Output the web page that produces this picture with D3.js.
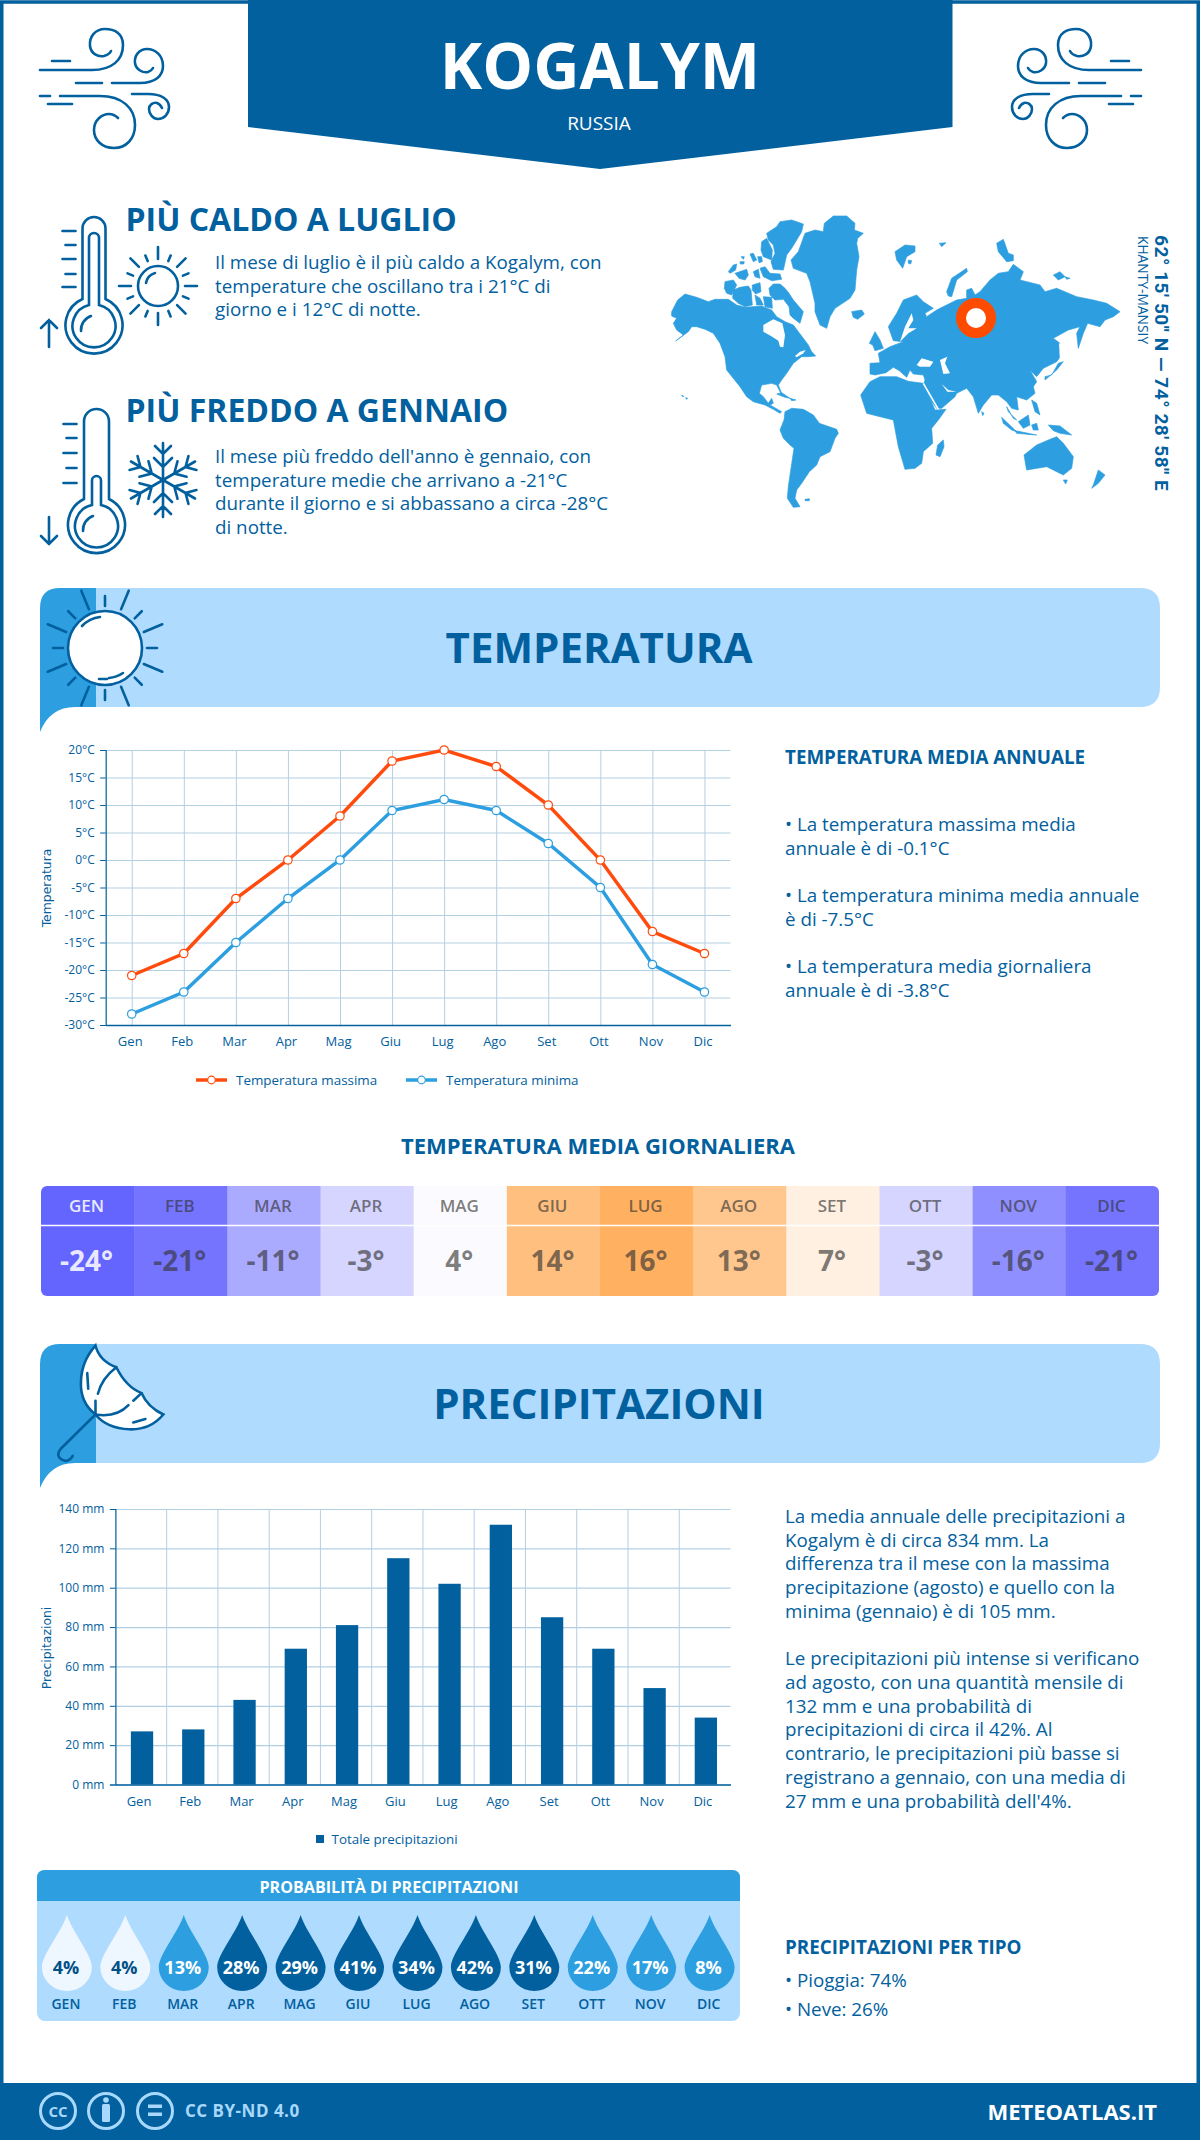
<!DOCTYPE html>
<html>
<head>
<meta charset="utf-8">
<script src="https://cdn.jsdelivr.net/npm/d3@7"></script>
<style>
  body { margin: 0; background: #fff; }
  svg { display: block; }
  text { font-family: "Open Sans", sans-serif; }
</style>
</head>
<body>
<div id="chart"></div>
<script>
// chart values
const months = ["Gen","Feb","Mar","Apr","Mag","Giu","Lug","Ago","Set","Ott","Nov","Dic"];
const monthsUpper = ["GEN","FEB","MAR","APR","MAG","GIU","LUG","AGO","SET","OTT","NOV","DIC"];
const tempMax = [-21,-17,-7,0,8,18,20,17,10,0,-13,-17];
const tempMin = [-28,-24,-15,-7,0,9,11,9,3,-5,-19,-24];
const tempTicks = [20,15,10,5,0,-5,-10,-15,-20,-25,-30];
const tempMean = [-24,-21,-11,-3,4,14,16,13,7,-3,-16,-21];
const precip = [27,28,43,69,81,115,102,132,85,69,49,34];
const precipTicks = [0,20,40,60,80,100,120,140];
const precipProb = [4,4,13,28,29,41,34,42,31,22,17,8];

const DARK = "#02609e", MID = "#2d9fe0", LIGHT = "#afdbff", GRID = "#b3cfe4", ORANGE = "#ff4b0d";

const svg = d3.select("#chart").append("svg").attr("width", 1200).attr("height", 2140);

function txt(x, y, str, size, o = {}) {
  const t = (o.g || svg).append("text").attr("x", x).attr("y", y)
    .attr("font-size", size)
    .attr("font-weight", o.w || 400)
    .attr("fill", o.c || DARK)
    .attr("text-anchor", o.a || "start")
    .text(str);
  if (o.ls) t.attr("letter-spacing", o.ls);
  if (o.f) t.style("font-family", o.f);
  return t;
}

function lines(x, ys, strs, size, o) {
  strs.forEach((s, i) => txt(x, ys[i], s, size, o));
}

// frame + header + footer
svg.append("rect").attr("x", 1.75).attr("y", 2).attr("width", 1196.5).attr("height", 2100)
  .attr("fill", "none").attr("stroke", DARK).attr("stroke-width", 3.5);
svg.append("path").attr("d", "M248,0H952.5V127L600,169L248,127Z").attr("fill", DARK);
svg.append("rect").attr("y", 2083).attr("width", 1200).attr("height", 57).attr("fill", DARK);

txt(600, 89, "KOGALYM", 64, { a: "middle", w: 700, c: "#fff" });
txt(599, 130, "RUSSIA", 19, { a: "middle", c: "#fff" });

// wind icon, drawn for the left side and mirrored on the right
const windPaths = [
  "M40,70H92C112,70 123,60 123,45C123,33 114,29 105,29C95,29 89,37 90,46C91,54 98,57 104,56C108,55 110,53 111,51",
  "M52,61H70", "M76,83H102",
  "M112,83H140C155,83 163,76 163,66C163,55 155,49 147,49C139,49 134,56 135,63C136,70 143,73 148,72C151,71 152,70 153,68",
  "M40,96H50", "M60,96H100C122,96 135,108 135,125C135,139 126,148 114,148C102,148 94,140 94,130C94,120 102,114 109,114C113,114 116,116 118,118",
  "M48,104H72",
  "M132,94H148C161,94 169,99 169,107C169,114 164,119 158,119C153,119 149,114 149,109C149,105 153,102 157,103C160,104 161,106 162,108"
];
function wind(t) {
  const g = svg.append("g").attr("transform", t).attr("fill", "none").attr("stroke", DARK)
    .attr("stroke-width", 2.6).attr("stroke-linecap", "round");
  windPaths.forEach(d => g.append("path").attr("d", d));
}
wind("");
wind("translate(1181,0) scale(-1,1)");

// thermometers
function thermometer(cx, cy, stemL, stemR, top, innerL, innerR, innerTop, tickYs, tickX, up) {
  const g = svg.append("g").attr("fill", "none").attr("stroke", DARK).attr("stroke-width", 2.6).attr("stroke-linecap", "round");
  const r = (stemR - stemL) / 2;
  g.append("path").attr("d", `M${stemL},${cy-26}V${top+r}A${r},${r} 0 0 1 ${stemR},${top+r}V${cy-26}A28.5,28.5 0 1 1 ${stemL},${cy-26}Z`);
  const ir = (innerR - innerL) / 2;
  g.append("path").attr("d", `M${innerL},${cy-20}V${innerTop+ir}A${ir},${ir} 0 0 1 ${innerR},${innerTop+ir}V${cy-20}A21.5,21.5 0 1 1 ${innerL},${cy-20}Z`);
  g.append("path").attr("d", `M${cx-13},${cy+6}A15,15 0 0 1 ${cx-3},${cy-9}`);
  tickYs.forEach((y, i) => g.append("line").attr("x1", i % 2 ? tickX + 3 : tickX).attr("x2", tickX + 13).attr("y1", y).attr("y2", y));
  const ay0 = up ? 347 : 517, ay1 = up ? 320 : 544, dir = up ? 8 : -8;
  g.append("path").attr("d", `M49,${ay0}V${ay1}M41,${ay1+dir}L49,${ay1}L57,${ay1+dir}`);
}
thermometer(94, 325, 82.5, 105.5, 217, 89, 99, 233, [231,245,259,274,287], 62.5, true);
thermometer(96, 525, 84, 109, 409, 92, 101, 476, [424,438,453,468,483], 63.5, false);

// small sun
{
  const g = svg.append("g").attr("transform", "translate(158,286)").attr("fill", "none").attr("stroke", DARK).attr("stroke-width", 2.6).attr("stroke-linecap", "round");
  g.append("circle").attr("r", 20);
  g.append("path").attr("d", "M-12,-3A13,13 0 0 1 -3,-13");
  d3.range(16).forEach(i => g.append("line").attr("y1", -27).attr("y2", i % 2 ? -33 : -39).attr("transform", `rotate(${i*22.5})`));
}
// snowflake
{
  const g = svg.append("g").attr("transform", "translate(163,480)").attr("fill", "none").attr("stroke", DARK).attr("stroke-width", 2.6).attr("stroke-linecap", "round");
  d3.range(6).forEach(i => g.append("path").attr("transform", `rotate(${i*60})`)
    .attr("d", "M0,0V-37M-8,-34L0,-26L8,-34M-9,-22L0,-13L9,-22"));
}

txt(125.5, 231, "PIÙ CALDO A LUGLIO", 32, { w: 700 });
lines(215, [269,292.5,316], ["Il mese di luglio è il più caldo a Kogalym, con","temperature che oscillano tra i 21°C di","giorno e i 12°C di notte."], 18.8);
txt(125.5, 422, "PIÙ FREDDO A GENNAIO", 32, { w: 700 });
lines(215, [463,486.5,510,534], ["Il mese più freddo dell'anno è gennaio, con","temperature medie che arrivano a -21°C","durante il giorno e si abbassano a circa -28°C","di notte."], 18.8);

// world map outline, traced by hand in three pieces, each at 3x
const mapNorth = [
  [[20,305],[38,270],[60,252],[95,262],[130,275],[150,268],[190,268],[215,285],[240,292],[290,288],[320,300],[335,320],[360,335],[385,345],[400,365],[415,385],[430,405],[440,425],[452,438],[430,440],[410,440],[385,460],[365,490],[350,510],[340,525],[352,555],[345,545],[335,525],[320,520],[290,525],[283,550],[295,560],[310,580],[320,565],[325,580],[315,585],[350,605],[345,610],[325,598],[300,585],[265,575],[245,560],[225,530],[185,480],[180,440],[165,400],[145,370],[120,358],[95,350],[80,350],[70,365],[32,393],[55,375],[35,360],[25,340],[35,325],[20,318]],
  [[305,70],[335,50],[345,35],[380,30],[415,42],[410,65],[395,90],[380,115],[365,135],[355,180],[325,178],[318,155],[330,130],[325,105],[310,90]],
  [[290,95],[305,85],[322,120],[320,150],[295,140],[288,120]],
  [[255,132],[265,130],[275,150],[265,155]],
  [[278,140],[290,140],[292,155],[282,158]],
  [[228,140],[238,140],[235,148]],
  [[225,155],[238,155],[236,162],[226,162]],
  [[190,185],[205,165],[215,162],[212,180],[195,190]],
  [[210,190],[245,178],[250,195],[240,210],[222,205]],
  [[265,185],[280,178],[285,205],[270,200]],
  [[285,175],[300,170],[315,190],[345,192],[350,208],[320,212],[295,200]],
  [[180,215],[205,210],[215,225],[200,255],[185,250],[178,235]],
  [[205,240],[225,232],[250,228],[258,240],[262,285],[240,290],[220,280],[203,265]],
  [[262,225],[285,218],[288,245],[272,252],[262,240]],
  [[270,255],[285,265],[295,285],[275,285]],
  [[312,235],[325,222],[345,222],[360,235],[372,250],[385,270],[415,305],[405,340],[385,325],[375,315],[372,290],[355,268],[330,270],[315,255]],
  [[295,260],[320,262],[322,295],[300,290]],
  [[478,40],[505,18],[545,18],[570,40],[568,60],[595,70],[578,85],[575,100],[582,140],[575,180],[570,240],[555,265],[510,295],[495,320],[485,355],[465,345],[450,305],[450,280],[435,215],[425,190],[385,175],[378,150],[400,125],[420,70],[450,60],[475,65]],
  [[560,305],[590,300],[598,312],[578,328],[565,322]],
  [[50,556],[56,558],[54,561]],
  [[62,563],[68,565],[64,568]]
];
const mapNorthSeas = [
  [[295,345],[325,328],[352,340],[360,375],[355,412],[345,410],[340,392],[318,378],[295,365]],
  [[345,275],[365,282],[372,300],[360,320],[340,315],[330,305],[345,295]],
  [[390,438],[405,425],[422,420],[415,430],[395,442]]
];
const mapSouth = [
  [[225,125],[245,115],[280,118],[310,135],[328,160],[380,178],[385,190],[375,205],[360,245],[330,260],[320,285],[298,305],[275,340],[260,360],[255,385],[270,410],[250,412],[232,385],[235,350],[240,315],[252,235],[240,225],[220,205],[210,180],[222,150]],
  [[285,388],[298,386],[298,392],[285,392]],
  [[200,72],[215,68],[240,85],[225,82]],
  [[240,85],[258,90],[245,92]]
];
const mapEast = [
  [[30,430],[60,428],[55,400],[90,380],[130,365],[100,362],[85,320],[110,280],[130,240],[170,225],[190,245],[220,265],[195,280],[200,290],[230,270],[240,265],[290,240],[320,235],[320,210],[335,205],[345,225],[360,215],[390,180],[415,160],[445,155],[460,133],[490,155],[480,180],[540,195],[555,215],[590,205],[650,230],[700,240],[740,250],[780,275],[760,290],[735,300],[720,320],[683,310],[670,340],[655,385],[650,340],[660,320],[625,330],[580,355],[600,370],[605,405],[590,425],[550,445],[530,470],[510,450],[530,485],[520,500],[525,520],[500,540],[470,530],[475,570],[455,565],[440,545],[415,525],[395,525],[370,555],[355,580],[340,530],[320,505],[290,520],[285,530],[245,565],[230,565],[215,545],[190,495],[195,480],[190,465],[160,462],[150,450],[140,472],[118,452],[100,442],[78,458],[45,465],[30,462]],
  [[2,525],[30,485],[60,470],[110,470],[145,484],[190,490],[225,570],[258,568],[235,600],[215,625],[218,670],[190,695],[185,730],[165,745],[135,748],[115,680],[100,600],[60,590],[20,580]],
  [[28,370],[45,335],[60,360],[70,385],[45,392],[38,375]],
  [[105,95],[135,75],[165,78],[165,95],[140,110],[128,145],[110,120]],
  [[145,120],[155,122],[152,132],[145,130]],
  [[238,70],[258,68],[245,80]],
  [[410,70],[430,58],[445,100],[460,105],[460,122],[440,125],[415,95]],
  [[260,215],[275,175],[320,145],[322,155],[290,180],[275,230],[265,228]],
  [[580,165],[600,155],[615,170],[595,180]],
  [[615,170],[630,175],[620,178]],
  [[555,480],[590,450],[610,425],[595,430],[575,465],[555,470]],
  [[515,540],[530,550],[540,585],[525,575]],
  [[425,592],[470,635],[455,630],[430,610]],
  [[465,632],[530,645],[470,640]],
  [[475,605],[505,585],[510,615],[490,625]],
  [[515,615],[530,610],[535,630],[520,630]],
  [[565,615],[600,618],[635,645],[600,640],[580,632]],
  [[440,560],[460,595],[470,600],[445,575]],
  [[492,705],[530,675],[565,660],[590,650],[610,670],[640,710],[635,745],[610,765],[590,755],[560,740],[500,750]],
  [[610,780],[622,780],[617,792]],
  [[715,750],[735,765],[715,790],[695,805],[700,795]],
  [[250,660],[252,680],[240,710],[228,705],[233,675]],
  [[365,575],[372,580],[368,587]]
];
const mapEastSeas = [
  [[170,435],[185,415],[220,425],[210,440],[180,440]],
  [[240,420],[262,410],[255,430],[270,460],[250,462]],
  [[125,350],[135,320],[155,280],[160,300],[145,325],[170,325],[145,340],[120,365]],
  [[245,492],[265,510],[290,515],[262,515]],
  [[597,370],[605,372],[607,410],[600,425]]
];
const closedLine = d3.line().curve(d3.curveLinearClosed);
function mapPiece(tx, ty, land, seas) {
  const g = svg.append("g").attr("transform", `translate(${tx},${ty}) scale(${1/3})`).attr("stroke-linejoin", "round");
  g.selectAll("path.land").data(land).join("path").attr("class", "land").attr("d", closedLine)
    .attr("fill", MID).attr("stroke", MID).attr("stroke-width", 2);
  g.selectAll("path.sea").data(seas).join("path").attr("class", "sea").attr("d", closedLine).attr("fill", "#fff");
  return g;
}
mapPiece(665, 210, mapNorth, mapNorthSeas);
mapPiece(710, 370, mapSouth, []);
mapPiece(860, 220, mapEast, mapEastSeas).append("path").attr("d", "M190,490L235,568").attr("stroke", "#fff").attr("stroke-width", 5).attr("fill", "none");
svg.append("circle").attr("cx", 976).attr("cy", 318).attr("r", 15).attr("fill", "#fff").attr("stroke", "#ff4b00").attr("stroke-width", 10);

txt(0, 0, "62° 15' 50'' N — 74° 28' 58'' E", 19, { w: 700, f: "Roboto", ls: 0.55 }).attr("transform", "translate(1155,235) rotate(90)");
txt(0, 0, "KHANTY-MANSIY", 13.8, {}).attr("transform", "translate(1138,236) rotate(90)");

// section bands
function band(y, title) {
  svg.append("path").attr("d", `M96,${y}H1140Q1160,${y} 1160,${y+20}V${y+99}Q1160,${y+119} 1140,${y+119}H96Z`).attr("fill", LIGHT);
  svg.append("path").attr("d", `M40,${y+144}V${y+20}Q40,${y} 60,${y}H96V${y+119}H75Q50,${y+119} 40,${y+144}Z`).attr("fill", MID);
  txt(599, y + 75, title, 42, { a: "middle", w: 700 });
}
band(588, "TEMPERATURA");
band(1344, "PRECIPITAZIONI");

// big sun in the first band
{
  const g = svg.append("g").attr("transform", "translate(105,648)").attr("stroke", DARK).attr("stroke-width", 2.6).attr("stroke-linecap", "round").attr("fill", "none");
  g.append("circle").attr("r", 37).attr("fill", "#fff");
  g.append("path").attr("d", "M-23,-22A30,30 0 0 1 -5,-31");
  g.append("path").attr("d", "M-6,31H2M4,30A30,30 0 0 0 18,25");
  d3.range(16).forEach(i => g.append("line").attr("y1", -42).attr("y2", i % 2 ? -62 : -52).attr("transform", `rotate(${i*22.5})`));
}
// umbrella in the second band
{
  const g = svg.append("g").attr("transform", "translate(0,1330) scale(0.4847,0.3448)").attr("fill", "none");
  const s = sel => sel.attr("stroke", DARK).attr("stroke-width", 2.6).attr("vector-effect", "non-scaling-stroke").attr("stroke-linecap", "round");
  s(g.append("path")).attr("fill", "#fff").attr("d", "M197,45Q205,90 240,108Q260,165 292,183Q305,225 337,245Q310,290 267,288Q220,285 197,245Q165,210 167,150Q168,90 197,45Z");
  s(g.append("path")).attr("d", "M240,108Q210,140 202,185M197,205V245Q240,255 265,218M275,205L292,183");
  s(g.append("path")).attr("d", "M180,125L182,170M275,268L300,258");
  s(g.append("path")).attr("d", "M197,245L125,345Q112,370 135,380Q145,378 150,365");
}

// temperature chart
const tW = [105.7, 730.5], tH = [1025, 750];
const xT = d3.scalePoint().domain(months).range(tW).padding(0.5);
const yT = d3.scaleLinear().domain([-30, 20]).range(tH);

function styleAxis(g) {
  g.selectAll("text").attr("fill", DARK).attr("font-size", 12).style("font-family", '"Open Sans", sans-serif');
  g.selectAll("line").attr("stroke", DARK);
}
function styleBottom(g) {
  g.selectAll("text").attr("font-size", 13).attr("dx", -2);
  g.select(".domain").attr("stroke", DARK).attr("stroke-width", 1.6);
}

// grids
svg.append("g").attr("transform", `translate(${tW[0]},0)`)
  .call(d3.axisLeft(yT).tickValues(tempTicks).tickSize(-(tW[1]-tW[0])).tickFormat(""))
  .call(g => g.select(".domain").remove())
  .call(g => g.selectAll("line").attr("stroke", GRID).attr("stroke-width", 1.2));
svg.append("g").attr("transform", `translate(0,${tH[0]})`)
  .call(d3.axisBottom(xT).tickSize(-(tH[0]-tH[1])).tickFormat(""))
  .call(g => g.select(".domain").remove())
  .call(g => g.selectAll("line").attr("stroke", GRID).attr("stroke-width", 1));

// axes
svg.append("g").attr("transform", `translate(${tW[0]},0)`)
  .call(d3.axisLeft(yT).tickValues(tempTicks).tickSize(5.5).tickPadding(5.5).tickFormat(d => d + "°C"))
  .call(styleAxis)
  .call(g => g.select(".domain").attr("stroke", DARK).attr("stroke-width", 1.2));
svg.append("g").attr("transform", `translate(0,${tH[0]})`)
  .call(d3.axisBottom(xT).tickSize(0).tickPadding(12))
  .call(styleAxis)
  .call(styleBottom);

txt(0, 0, "Temperatura", 12.4, { a: "middle", f: "DejaVu Sans" }).attr("transform", "translate(51,888) rotate(-90)");

const tempLine = d3.line().x((d, i) => xT(months[i])).y(d => yT(d));
[[tempMax, ORANGE], [tempMin, MID]].forEach(([vals, col]) => {
  svg.append("path").datum(vals).attr("d", tempLine).attr("fill", "none").attr("stroke", col).attr("stroke-width", 3.5);
  svg.append("g").selectAll("circle").data(vals).join("circle")
    .attr("cx", (d, i) => xT(months[i])).attr("cy", d => yT(d)).attr("r", 4.2)
    .attr("fill", "#fff").attr("stroke", col).attr("stroke-width", 1.2);
});

// legend
[[196, ORANGE, "Temperatura massima"], [406, MID, "Temperatura minima"]].forEach(([x, col, name]) => {
  svg.append("line").attr("x1", x).attr("x2", x + 31).attr("y1", 1080).attr("y2", 1080).attr("stroke", col).attr("stroke-width", 3.5);
  svg.append("circle").attr("cx", x + 15.5).attr("cy", 1080).attr("r", 3.8).attr("fill", "#fff").attr("stroke", col).attr("stroke-width", 1.2);
  txt(x + 40, 1084.5, name, 13.4);
});

// right column, temperature
txt(785, 764, "TEMPERATURA MEDIA ANNUALE", 18.8, { w: 700 });
lines(785, [831,855,902,926,973,997], [
  "• La temperatura massima media","annuale è di -0.1°C",
  "• La temperatura minima media annuale","è di -7.5°C",
  "• La temperatura media giornaliera","annuale è di -3.8°C"], 18.8);

// daily mean table
txt(598, 1154, "TEMPERATURA MEDIA GIORNALIERA", 22, { a: "middle", w: 700 });
const cell = d3.scaleBand().domain(monthsUpper).range([41, 1159]);
const cold = d3.scaleLinear().domain([-24, 4]).range(["#6464ff", "#fbfbff"]);
const warm = d3.scaleLinear().domain([7, 13, 16]).range(["#fff0e1", "#ffc68e", "#ffb060"]);
const heat = v => v <= 4 ? cold(v) : warm(v);
svg.append("clipPath").attr("id", "tableClip").append("rect").attr("x", 41).attr("y", 1186).attr("width", 1118).attr("height", 110).attr("rx", 6);
const table = svg.append("g").attr("clip-path", "url(#tableClip)");
table.selectAll("rect").data(tempMean).join("rect")
  .attr("x", (d, i) => cell(monthsUpper[i])).attr("y", 1186)
  .attr("width", cell.bandwidth() + 0.5).attr("height", 110)
  .attr("fill", d => heat(d));
svg.append("line").attr("x1", 41).attr("x2", 1159).attr("y1", 1225.5).attr("y2", 1225.5).attr("stroke", "#fff").attr("stroke-width", 1.5);
tempMean.forEach((v, i) => {
  const cx = cell(monthsUpper[i]) + cell.bandwidth() / 2 - 1;
  const first = i === 0;
  txt(cx, 1212, monthsUpper[i], 17, { a: "middle", w: 600, c: first ? "#e8e8ff" : "#333" }).attr("fill-opacity", first ? 1 : 0.65);
  txt(cx, 1271, v + "°", 28, { a: "middle", w: 700, c: first ? "#e8e8ff" : "#333" }).attr("fill-opacity", first ? 1 : 0.65);
});

// precipitation chart
const pW = [115.4, 730.5], pH = [1784.5, 1509];
const xP = d3.scaleBand().domain(months).range(pW).paddingInner(0.565).paddingOuter(0.2825);
const yP = d3.scaleLinear().domain([0, 140]).range(pH);

svg.append("g").attr("transform", `translate(${pW[0]},0)`)
  .call(d3.axisLeft(yP).tickValues(precipTicks).tickSize(-(pW[1]-pW[0])).tickFormat(""))
  .call(g => g.select(".domain").remove())
  .call(g => g.selectAll("line").attr("stroke", GRID).attr("stroke-width", 1.2));
svg.append("g").selectAll("line").data(months.slice(1)).join("line")
  .attr("x1", d => xP(d) - (xP.step() - xP.bandwidth()) / 2).attr("x2", d => xP(d) - (xP.step() - xP.bandwidth()) / 2)
  .attr("y1", pH[0]).attr("y2", pH[1]).attr("stroke", GRID).attr("stroke-width", 1);

svg.append("g").attr("transform", "translate(1,0)").selectAll("rect").data(precip).join("rect")
  .attr("x", (d, i) => xP(months[i])).attr("y", d => yP(d))
  .attr("width", xP.bandwidth()).attr("height", d => yP(0) - yP(d)).attr("fill", DARK);

svg.append("g").attr("transform", `translate(${pW[0]},0)`)
  .call(d3.axisLeft(yP).tickValues(precipTicks).tickSize(5.5).tickPadding(5.5).tickFormat(d => d + " mm"))
  .call(styleAxis)
  .call(g => g.select(".domain").attr("stroke", DARK).attr("stroke-width", 1.2));
svg.append("g").attr("transform", `translate(0,${pH[0]})`)
  .call(d3.axisBottom(xP).tickSize(0).tickPadding(12))
  .call(styleAxis)
  .call(styleBottom);

txt(0, 0, "Precipitazioni", 12.4, { a: "middle", f: "DejaVu Sans" }).attr("transform", "translate(51,1648) rotate(-90)");

svg.append("rect").attr("x", 316).attr("y", 1835).attr("width", 8).attr("height", 8).attr("fill", DARK);
txt(331.5, 1843.5, "Totale precipitazioni", 13.4);

// right column, precipitation
lines(785, [1523,1546.5,1570,1594,1618], [
  "La media annuale delle precipitazioni a","Kogalym è di circa 834 mm. La",
  "differenza tra il mese con la massima","precipitazione (agosto) e quello con la",
  "minima (gennaio) è di 105 mm."], 18.8);
lines(785, [1665,1689,1713,1736,1760,1784,1808], [
  "Le precipitazioni più intense si verificano","ad agosto, con una quantità mensile di",
  "132 mm e una probabilità di","precipitazioni di circa il 42%. Al",
  "contrario, le precipitazioni più basse si","registrano a gennaio, con una media di",
  "27 mm e una probabilità dell'4%."], 18.8);
txt(785, 1954, "PRECIPITAZIONI PER TIPO", 18.8, { w: 700 });
lines(785, [1987,2016], ["• Pioggia: 74%","• Neve: 26%"], 18.8);

// probability panel
svg.append("rect").attr("x", 37).attr("y", 1870).attr("width", 703).attr("height", 151).attr("rx", 8).attr("fill", LIGHT);
svg.append("path").attr("d", "M37,1901V1878Q37,1870 45,1870H732Q740,1870 740,1878V1901Z").attr("fill", MID);
txt(389, 1893, "PROBABILITÀ DI PRECIPITAZIONI", 16.1, { a: "middle", w: 700, c: "#fff" });

const dropX = d3.scalePoint().domain(monthsUpper).range([66.9, 709.6]);
const dropFill = d3.scaleThreshold().domain([5, 25]).range(["#eef7ff", MID, DARK]);
const dropPath = "M0,-52C5,-36 25,-12 25,0A25,24 0 1 1 -25,0C-25,-12 -5,-36 0,-52Z";
precipProb.forEach((p, i) => {
  const x = dropX(monthsUpper[i]);
  svg.append("path").attr("d", dropPath).attr("transform", `translate(${x},1967)`).attr("fill", dropFill(p));
  txt(x - 1, 1973.5, p + "%", 18, { a: "middle", w: 700, c: p < 5 ? "#024f85" : "#fff" });
  txt(x - 1, 2009, monthsUpper[i], 14, { a: "middle", w: 600 });
});

// footer
const CC = "#a8d8fb";
[58, 106, 155].forEach(x => svg.append("circle").attr("cx", x).attr("cy", 2111).attr("r", 17.5).attr("fill", "none").attr("stroke", CC).attr("stroke-width", 3));
txt(58, 2116.5, "CC", 15, { a: "middle", w: 700, c: CC });
svg.append("circle").attr("cx", 106).attr("cy", 2100).attr("r", 2.8).attr("fill", CC);
svg.append("rect").attr("x", 102).attr("y", 2104).attr("width", 8).attr("height", 18).attr("rx", 1.5).attr("fill", CC);
svg.append("rect").attr("x", 148).attr("y", 2104.5).attr("width", 14).attr("height", 3.5).attr("fill", CC);
svg.append("rect").attr("x", 148).attr("y", 2112.5).attr("width", 14).attr("height", 3.5).attr("fill", CC);
txt(185, 2117, "CC BY-ND 4.0", 17, { w: 700, c: CC, ls: 0.5 });
txt(1157, 2120, "METEOATLAS.IT", 22, { a: "end", w: 700, c: "#fff" });
</script>
</body>
</html>
